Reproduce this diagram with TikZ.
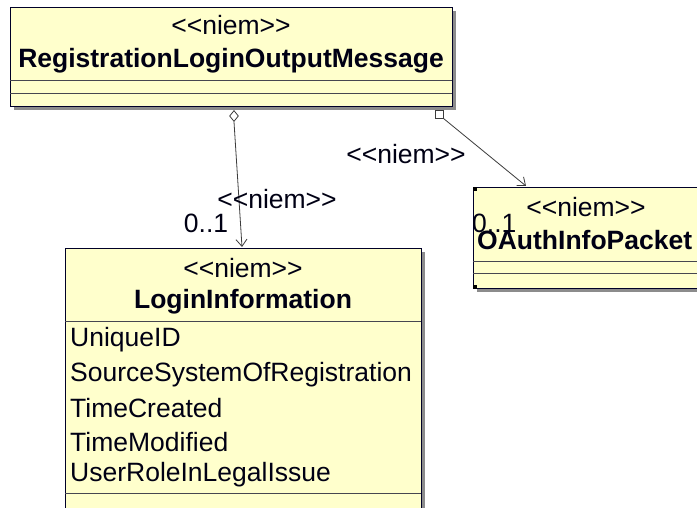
\documentclass[tikz,border=0pt]{standalone}
\usepackage{fontspec}
\setmainfont{Liberation Sans}[Ligatures=TeXOff]
\usetikzlibrary{arrows.meta,shapes.geometric,shadows}
\definecolor{umlfill}{RGB}{255,255,204}
\definecolor{umlline}{RGB}{0,0,40}
\definecolor{sepline}{RGB}{70,70,80}
\definecolor{connline}{RGB}{60,60,60}
\definecolor{umltext}{RGB}{0,0,20}
\tikzset{
  umlbox/.style={draw=umlline, line width=0.9pt, fill=umlfill, rectangle, anchor=north west, inner sep=0pt,
    drop shadow={shadow xshift=4pt, shadow yshift=-4pt, fill=gray!90, opacity=1}},
  stereo/.style={font=\fontsize{26.5}{30}\selectfont, text=umltext, inner sep=0pt},
  cname/.style={font=\fontsize{26.5}{30}\selectfont\bfseries, text=umltext, inner sep=0pt},
  attr/.style={font=\fontsize{26.5}{30}\selectfont, text=umltext, inner sep=0pt, anchor=west},
  lbl/.style={font=\fontsize{26.5}{30}\selectfont, text=umltext, inner sep=0pt},
  sep/.style={draw=sepline, line width=0.9pt},
  conn/.style={draw=connline, line width=0.8pt},
  handle/.style={fill=black, draw=none, minimum size=4pt, inner sep=0pt, rectangle}
}
\begin{document}
\begin{tikzpicture}[x=1pt, y=-1pt]
\useasboundingbox (0,0) rectangle (697,508);
\fill[white] (0,0) rectangle (697,508);

% Box 1
\node[umlbox, minimum width=442pt, minimum height=99pt] (rlom) at (10,7) {};
\node[stereo] (rlomst) at (231,25) {<<niem>>};
\node[cname] (rlomnm) at (231,61) {RegistrationLoginOutputMessage};
\draw[sep] (10,80) -- (452,80);
\draw[sep] (10,93) -- (452,93);

% Box 2
\node[umlbox, minimum width=356pt, minimum height=270pt] (li) at (65,248) {};
\node[stereo] (list) at (243,268) {<<niem>>};
\node[cname] (linm) at (243,302) {LoginInformation};
\draw[sep] (65,321) -- (421,321);
\node[attr] (a1) at (70,340) {UniqueID};
\node[attr] (a2) at (70,375) {SourceSystemOfRegistration};
\node[attr] (a3) at (70,408) {TimeCreated};
\node[attr] (a4) at (70,442) {TimeModified};
\node[attr] (a5) at (70,475) {UserRoleInLegalIssue};
\draw[sep] (65,493) -- (421,493);

% Box 3
\node[umlbox, minimum width=240pt, minimum height=101pt] (oa) at (473,187) {};
\node[stereo] (oast) at (586,207) {<<niem>>};
\node[cname, anchor=west] (oanm) at (477,240) {OAuthInfoPacket};
\draw[sep] (473,261) -- (713,261);
\draw[sep] (473,273) -- (713,273);
\node[handle] (h1) at (475,189) {};
\node[handle] (h2) at (475,287) {};

% Connector 1: aggregation to LoginInformation
\node[diamond, draw=connline, fill=white, line width=0.8pt, minimum width=9pt, minimum height=11pt, inner sep=0pt] (dm) at (234,116) {};
\coordinate (t1) at (242,247);
\draw[conn, -{Straight Barb[length=7pt,width=11pt]}] (dm.south) -- (t1);
\node[lbl] (l1) at (277,199) {<<niem>>};
\node[lbl] (m1) at (206,223) {0..1};

% Connector 2: to OAuthInfoPacket
\node[rectangle, draw=connline, fill=white, line width=0.8pt, minimum size=8pt, inner sep=0pt] (sq) at (439,114) {};
\coordinate (t2) at (526,186);
\draw[conn, -{Straight Barb[length=7pt,width=11pt]}] (sq.south east) -- (t2);
\node[lbl] (l2) at (406,154) {<<niem>>};
\node[lbl, anchor=west] (m2) at (472,223) {0..1};
\end{tikzpicture}
\end{document}
